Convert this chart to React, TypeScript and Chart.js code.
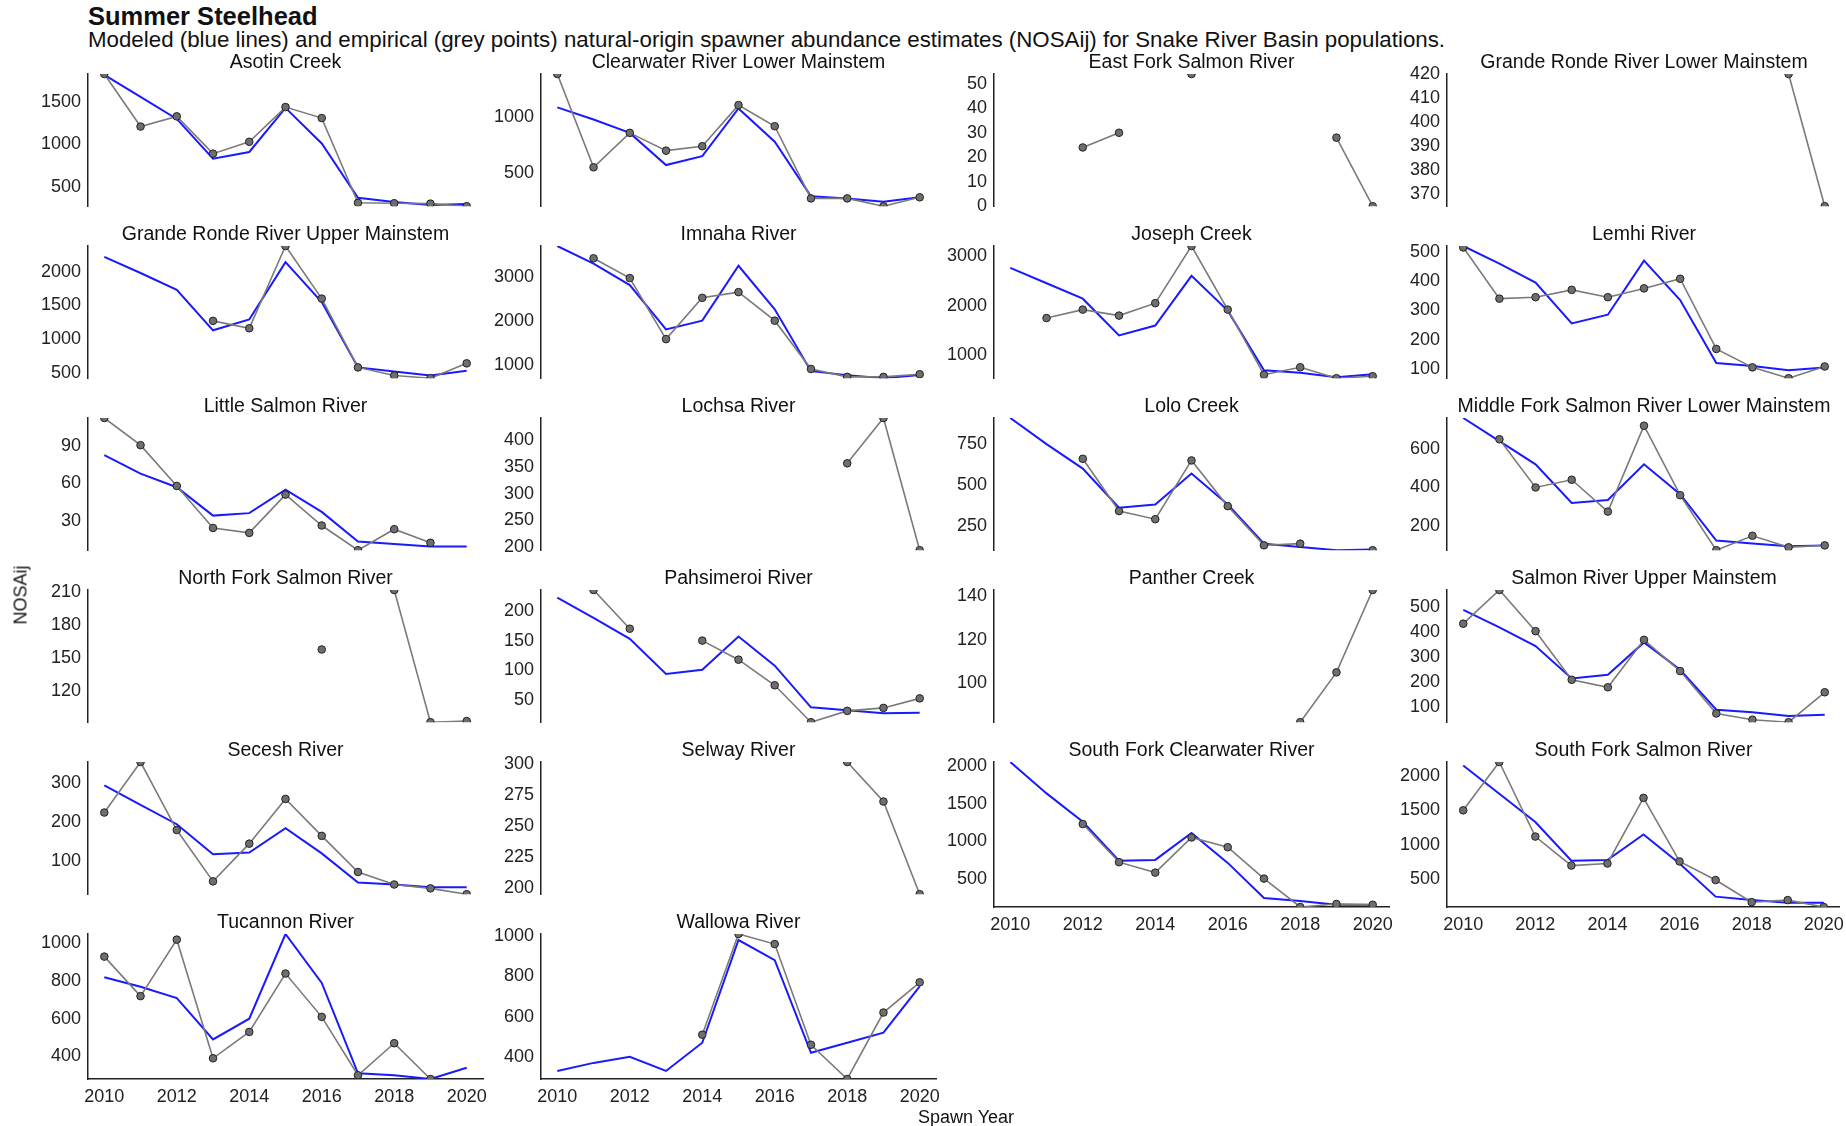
import React, { useEffect, useRef } from "react";
import { Chart, registerables } from "chart.js";
Chart.register(...registerables);

const years = [2010, 2011, 2012, 2013, 2014, 2015, 2016, 2017, 2018, 2019, 2020];
const xTicks = [2010, 2012, 2014, 2016, 2018, 2020];
const N = null;

const names = [
  "Asotin Creek", "Clearwater River Lower Mainstem", "East Fork Salmon River", "Grande Ronde River Lower Mainstem",
  "Grande Ronde River Upper Mainstem", "Imnaha River", "Joseph Creek", "Lemhi River",
  "Little Salmon River", "Lochsa River", "Lolo Creek", "Middle Fork Salmon River Lower Mainstem",
  "North Fork Salmon River", "Pahsimeroi River", "Panther Creek", "Salmon River Upper Mainstem",
  "Secesh River", "Selway River", "South Fork Clearwater River", "South Fork Salmon River",
  "Tucannon River", "Wallowa River",
];

const empirical: (number | null)[][] = [
  [1830, 1210, 1330, 890, 1030, 1440, 1310, 310, 305, 300, 270],
  [1390, 550, 860, 700, 740, 1110, 920, 270, 270, 200, 280],
  [N, N, 24, 30, N, 54, N, N, N, 28, 0],
  [N, N, N, N, N, N, N, N, N, 420, 365],
  [N, N, N, 1270, 1160, 2380, 1600, 580, 460, 420, 640],
  [N, 3420, 2970, 1580, 2520, 2650, 2000, 900, 720, 720, 780],
  [N, 1750, 1920, 1800, 2050, 3200, 1920, 610, 760, 540, 580],
  [515, 340, 345, 370, 345, 375, 408, 168, 105, 68, 108],
  [113, 91, 58, 24, 20, 51, 26, 6, 23, 12, N],
  [N, N, N, N, N, N, N, N, 356, 440, 195],
  [N, N, 660, 340, 290, 650, 370, 130, 140, N, 100],
  [N, 650, 400, 440, 275, 720, 360, 75, 150, 90, 100],
  [N, N, N, N, N, N, 158, N, 212, 92, 93],
  [N, 235, 170, N, 150, 118, 75, 13, 32, 37, 53],
  [N, N, N, N, N, N, N, N, 82, 105, 143],
  [435, 570, 405, 210, 180, 370, 245, 75, 50, 40, 160],
  [225, 355, 180, 48, 145, 260, 165, 72, 40, 30, 15],
  [N, N, N, N, N, N, N, N, 302, 270, 195],
  [N, N, 1230, 720, 580, 1050, 920, 500, 120, 160, 150],
  [1500, 2200, 1120, 700, 730, 1680, 760, 490, 170, 200, 100],
  [930, 720, 1020, 390, 530, 840, 610, 300, 470, 280, N],
  [N, N, N, N, 510, 1010, 960, 460, 290, 620, 770],
];

const modeled: (number | null)[][] = [
  [1820, 1560, 1300, 830, 910, 1430, 1010, 370, 320, 285, 295],
  [1090, 980, 860, 570, 650, 1080, 780, 290, 270, 240, 280],
  [],
  [],
  [2220, 1980, 1730, 1130, 1290, 2140, 1550, 580, 520, 460, 530],
  [3700, 3300, 2810, 1800, 2000, 3250, 2260, 850, 760, 690, 760],
  [2760, 2450, 2140, 1400, 1600, 2600, 1900, 700, 650, 560, 620],
  [520, 460, 395, 255, 285, 470, 335, 120, 110, 95, 105],
  [83, 68, 57, 34, 36, 55, 37, 13, 11, 9, 9],
  [],
  [910, 750, 600, 360, 380, 570, 380, 140, 120, 100, 105],
  [760, 640, 520, 320, 335, 520, 365, 125, 110, 95, 100],
  [],
  [222, 188, 153, 94, 101, 157, 108, 38, 33, 28, 29],
  [],
  [490, 420, 345, 215, 230, 360, 250, 90, 80, 65, 70],
  [295, 245, 195, 118, 122, 185, 120, 45, 40, 33, 33],
  [],
  [2060, 1640, 1260, 740, 750, 1110, 710, 240, 200, 150, 150],
  [2150, 1740, 1330, 770, 780, 1150, 730, 250, 200, 160, 160],
  [820, 770, 710, 490, 600, 1050, 790, 310, 300, 280, 340],
  [330, 370, 400, 330, 470, 980, 880, 420, 470, 520, 750],
];

const yStep = [500, 500, 10, 10, 500, 1000, 1000, 100, 30, 50, 250, 200, 30, 50, 20, 100, 100, 25, 500, 500, 200, 200];
const withXAxis = [18, 19, 20, 21];

const FONT = "'Liberation Sans', Arial, sans-serif";
const W = 480, CELL_W = 453, ROW_H = 172, TOP = 24, PLOT_H = 145, XAX = 36;

function Panel({ idx }: { idx: number }) {
  const ref = useRef<HTMLCanvasElement>(null);
  const col = idx % 4, row = Math.floor(idx / 4);
  const hasX = withXAxis.includes(idx);
  const h = TOP + PLOT_H + (hasX ? XAX : 0);
  const w = col === 3 ? 1846 - (30 + col * CELL_W) : W;
  useEffect(() => {
    const emp = empirical[idx], mod = modeled[idx];
    const vals = [...emp, ...mod].filter((v) => v !== null) as number[];
    const mn = Math.min(...vals), mx = Math.max(...vals);
    const step = yStep[idx];
    const titlePlugin = {
      id: "ptitle",
      afterDraw(c: any) {
        const ctx = c.ctx;
        ctx.save();
        ctx.font = `19.5px ${FONT}`;
        ctx.fillStyle = "#111";
        ctx.textAlign = "center";
        ctx.textBaseline = "middle";
        ctx.fillText(names[idx], (c.chartArea.left + c.chartArea.right) / 2, 13);
        ctx.restore();
      },
    };
    const tickFont = { size: 18, family: FONT };
    const chart = new Chart(ref.current!, {
      type: "line",
      data: {
        datasets: [
          {
            data: mod.length ? years.map((y, i) => ({ x: y, y: mod[i] })) : [],
            borderColor: "#1a1aff",
            borderWidth: 2,
            pointRadius: 0,
            spanGaps: false,
            order: 1,
          },
          {
            data: years.map((y, i) => ({ x: y, y: emp[i] })),
            borderColor: "#7a7a7a",
            borderWidth: 1.6,
            pointRadius: 3.8,
            pointBackgroundColor: "#6e6e6e",
            pointBorderColor: "#222",
            pointBorderWidth: 1,
            spanGaps: false,
            order: 0,
          },
        ],
      },
      options: {
        animation: false,
        responsive: false,
        maintainAspectRatio: false,
        layout: { padding: { top: TOP, right: w - CELL_W, bottom: 0, left: 0 } },
        plugins: { legend: { display: false }, tooltip: { enabled: false } },
        scales: {
          x: {
            type: "linear",
            min: 2009.55,
            max: 2020.45,
            display: hasX,
            afterBuildTicks: (s: any) => { s.ticks = xTicks.map((v) => ({ value: v })); },
            afterFit: (s: any) => { s.height = hasX ? XAX : 0; },
            grid: { display: false, drawOnChartArea: false, tickLength: 5, color: "#222" },
            border: { color: "#222", width: 1.5 },
            ticks: { font: tickFont, color: "#222", padding: 2, maxRotation: 0, autoSkip: false, callback: (v: any) => String(v) },
          },
          y: {
            type: "linear",
            min: mn,
            max: mx,
            afterBuildTicks: (s: any) => {
              const t = [];
              for (let v = Math.ceil(mn / step) * step; v <= mx + 1e-9; v += step) t.push({ value: v });
              s.ticks = t;
            },
            afterFit: (s: any) => { s.width = 58; },
            grid: { display: false, drawOnChartArea: false, tickLength: 5, color: "#222" },
            border: { color: "#222", width: 1.5 },
            ticks: { font: tickFont, color: "#222", padding: 2, autoSkip: false, callback: (v: any) => String(v) },
          },
        },
      },
      plugins: [titlePlugin],
    });
    return () => chart.destroy();
  }, [idx]);
  return (
    <canvas
      ref={ref}
      width={w}
      height={h}
      style={{ position: "absolute", left: 30 + col * CELL_W, top: 50 + row * ROW_H, width: w, height: h }}
    />
  );
}

export default function App() {
  return (
    <div style={{ position: "absolute", left: 0, top: 0, width: 1846, height: 1126, background: "#fff", fontFamily: FONT, color: "#111", overflow: "hidden" }}>
      <div style={{ position: "absolute", left: 88, top: 2, fontSize: 25.5, fontWeight: "bold" }}>Summer Steelhead</div>
      <div style={{ position: "absolute", left: 88, top: 27, fontSize: 22.3, whiteSpace: "nowrap" }}>
        Modeled (blue lines) and empirical (grey points) natural-origin spawner abundance estimates (NOSAij) for Snake River Basin populations.
      </div>
      {names.map((_, i) => <Panel key={i} idx={i} />)}
      <div style={{ position: "absolute", left: 21, top: 595, transform: "translate(-50%,-50%) rotate(-90deg)", fontSize: 18, whiteSpace: "nowrap" }}>NOSAij</div>
      <div style={{ position: "absolute", left: 966, top: 1117, transform: "translate(-50%,-50%)", fontSize: 18, whiteSpace: "nowrap" }}>Spawn Year</div>
    </div>
  );
}
